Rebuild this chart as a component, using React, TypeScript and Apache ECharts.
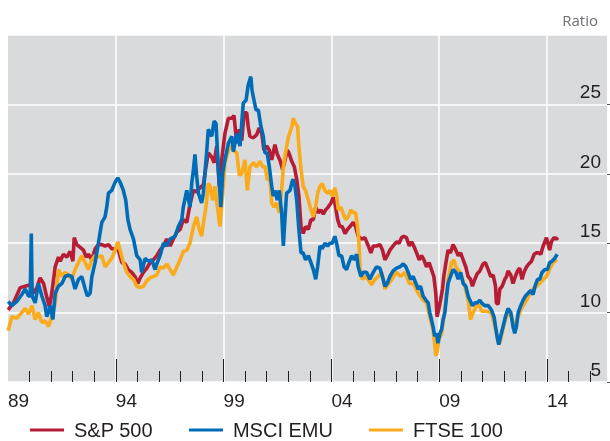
import React, { useEffect, useRef } from "react";
import * as echarts from "echarts";

// Forward P/E ratios, [decimal year, ratio]
const sp500: [number, number][] = [
  [1989.01,10.2],[1989.25,10.7],[1989.57,11.8],[1989.80,11.9],[1990.03,12.0],[1990.18,11.4],[1990.34,11.8],[1990.49,12.5],[1990.65,12.1],[1990.80,11.1],[1990.92,10.4],[1991.03,11.4],[1991.19,13.3],[1991.34,14.0],[1991.42,13.7],[1991.57,14.2],[1991.73,14.0],[1991.88,14.4],[1992.01,13.7],[1992.07,15.4],[1992.19,14.9],[1992.35,14.7],[1992.50,14.5],[1992.62,14.0],[1992.73,14.2],[1992.89,13.8],[1993.04,14.6],[1993.19,14.9],[1993.35,14.9],[1993.50,14.8],[1993.66,14.9],[1993.81,14.6],[1993.97,14.6],[1994.12,14.5],[1994.28,13.6],[1994.43,13.5],[1994.58,13.1],[1994.74,12.9],[1994.89,12.6],[1995.02,12.1],[1995.13,12.5],[1995.28,12.9],[1995.44,13.2],[1995.59,13.6],[1995.74,13.8],[1995.90,14.1],[1996.05,14.5],[1996.21,14.8],[1996.36,15.3],[1996.52,14.8],[1996.67,15.3],[1996.83,15.8],[1996.98,16.0],[1997.13,16.7],[1997.29,16.5],[1997.44,17.8],[1997.60,18.8],[1997.75,18.7],[1997.91,19.0],[1998.06,19.2],[1998.18,20.5],[1998.29,21.5],[1998.45,21.2],[1998.56,20.8],[1998.68,22.0],[1998.80,19.1],[1998.91,21.0],[1999.06,22.9],[1999.22,24.0],[1999.38,24.0],[1999.48,24.2],[1999.61,22.2],[1999.73,23.2],[1999.84,22.4],[1999.95,24.4],[2000.07,24.4],[2000.14,23.4],[2000.22,22.7],[2000.38,22.6],[2000.53,22.8],[2000.65,23.3],[2000.77,22.9],[2000.87,21.7],[2001.00,22.0],[2001.12,21.7],[2001.23,21.0],[2001.38,22.1],[2001.49,21.4],[2001.61,21.0],[2001.74,20.3],[2001.85,21.0],[2001.95,21.7],[2002.03,21.5],[2002.16,20.9],[2002.28,20.5],[2002.39,19.6],[2002.49,18.4],[2002.59,16.2],[2002.69,15.7],[2002.80,16.2],[2002.93,16.0],[2003.05,16.7],[2003.16,16.7],[2003.27,17.6],[2003.39,17.2],[2003.51,17.4],[2003.62,17.1],[2003.73,17.4],[2003.85,17.6],[2003.98,17.9],[2004.08,18.3],[2004.16,17.9],[2004.29,16.7],[2004.39,16.2],[2004.50,16.2],[2004.63,15.7],[2004.75,16.0],[2004.86,16.2],[2005.01,16.5],[2005.12,16.2],[2005.24,15.5],[2005.40,15.3],[2005.55,15.4],[2005.71,14.8],[2005.83,14.3],[2005.94,14.8],[2006.09,14.8],[2006.25,14.9],[2006.37,14.5],[2006.48,13.8],[2006.59,14.1],[2006.71,14.5],[2006.86,14.8],[2007.02,15.1],[2007.14,15.0],[2007.25,15.4],[2007.36,15.5],[2007.48,15.4],[2007.61,14.8],[2007.72,15.1],[2007.82,14.8],[2007.95,14.3],[2008.07,13.8],[2008.18,14.1],[2008.29,13.8],[2008.41,13.3],[2008.53,13.6],[2008.64,13.1],[2008.75,12.6],[2008.84,11.4],[2008.90,9.7],[2008.97,10.2],[2009.06,10.9],[2009.15,11.7],[2009.21,12.6],[2009.31,13.6],[2009.41,14.5],[2009.52,14.3],[2009.64,14.9],[2009.77,14.5],[2009.88,14.1],[2009.99,14.3],[2010.11,13.8],[2010.23,13.3],[2010.34,12.6],[2010.45,12.4],[2010.54,11.9],[2010.65,12.4],[2010.76,12.8],[2010.88,13.0],[2011.03,13.5],[2011.14,13.6],[2011.27,13.1],[2011.39,12.6],[2011.50,12.7],[2011.61,11.9],[2011.65,10.7],[2011.73,10.6],[2011.81,11.7],[2011.92,11.9],[2012.04,12.4],[2012.12,12.6],[2012.19,13.0],[2012.32,12.7],[2012.42,12.1],[2012.53,12.6],[2012.63,13.0],[2012.73,13.2],[2012.84,12.4],[2012.93,12.9],[2013.05,13.3],[2013.15,13.5],[2013.28,13.7],[2013.40,14.2],[2013.51,14.3],[2013.62,14.3],[2013.71,14.2],[2013.82,14.8],[2013.90,15.1],[2013.97,15.4],[2014.07,14.8],[2014.12,14.5],[2014.20,15.1],[2014.32,15.4],[2014.43,15.3],[2014.51,15.4]
];

const msciEmu: [number, number][] = [
  [1989.01,10.8],[1989.18,10.5],[1989.41,10.8],[1989.64,11.3],[1989.80,11.7],[1989.95,11.2],[1990.03,11.2],[1990.08,15.7],[1990.12,11.2],[1990.26,10.7],[1990.41,12.1],[1990.57,11.2],[1990.72,10.5],[1990.80,9.7],[1990.96,10.5],[1991.08,9.5],[1991.19,11.4],[1991.34,11.9],[1991.50,12.1],[1991.65,12.6],[1991.80,12.7],[1991.96,12.6],[1992.11,11.7],[1992.27,12.4],[1992.42,12.6],[1992.58,11.7],[1992.68,11.2],[1992.81,11.4],[1992.89,12.6],[1993.04,13.6],[1993.19,15.0],[1993.35,16.5],[1993.50,16.9],[1993.58,17.6],[1993.66,18.6],[1993.81,18.8],[1993.97,19.4],[1994.09,19.7],[1994.20,19.4],[1994.35,18.8],[1994.46,18.1],[1994.56,16.7],[1994.66,16.0],[1994.82,15.3],[1994.97,14.1],[1995.13,13.8],[1995.20,12.9],[1995.36,13.9],[1995.51,13.7],[1995.67,13.8],[1995.82,13.1],[1995.90,13.5],[1996.05,14.1],[1996.21,15.0],[1996.36,14.8],[1996.52,15.3],[1996.75,15.5],[1996.90,16.2],[1997.06,16.7],[1997.13,17.6],[1997.29,18.8],[1997.44,17.6],[1997.52,19.3],[1997.60,20.3],[1997.67,21.4],[1997.75,19.8],[1997.83,18.6],[1997.98,17.9],[1998.06,18.6],[1998.22,21.7],[1998.29,23.2],[1998.45,22.7],[1998.56,23.8],[1998.65,23.6],[1998.75,20.5],[1998.87,17.6],[1998.96,20.1],[1999.06,21.0],[1999.22,22.2],[1999.38,22.7],[1999.45,21.6],[1999.61,22.9],[1999.76,22.0],[1999.91,25.1],[2000.04,25.3],[2000.14,26.4],[2000.26,27.0],[2000.32,26.0],[2000.41,25.3],[2000.50,24.6],[2000.61,24.6],[2000.72,23.5],[2000.84,22.7],[2000.92,21.5],[2001.02,21.5],[2001.12,20.5],[2001.23,19.1],[2001.30,18.4],[2001.38,18.8],[2001.49,18.1],[2001.58,18.8],[2001.69,17.2],[2001.77,14.8],[2001.85,16.9],[2001.92,18.6],[2002.08,18.8],[2002.17,19.4],[2002.23,19.6],[2002.31,19.1],[2002.39,18.1],[2002.49,16.0],[2002.59,14.3],[2002.69,14.3],[2002.80,13.8],[2002.93,14.1],[2003.05,13.6],[2003.16,13.1],[2003.27,12.4],[2003.36,13.3],[2003.47,14.8],[2003.57,14.6],[2003.70,15.0],[2003.82,14.8],[2003.93,15.0],[2004.04,15.0],[2004.16,15.5],[2004.24,15.0],[2004.35,14.1],[2004.47,14.1],[2004.59,13.3],[2004.70,13.1],[2004.81,13.6],[2004.94,14.1],[2005.06,13.8],[2005.17,14.2],[2005.24,13.3],[2005.37,12.6],[2005.47,12.9],[2005.63,12.9],[2005.78,12.4],[2005.94,12.9],[2006.09,13.3],[2006.25,13.2],[2006.40,12.4],[2006.48,11.9],[2006.59,12.1],[2006.71,12.6],[2006.86,13.0],[2007.02,13.2],[2007.17,13.3],[2007.33,13.5],[2007.45,13.3],[2007.56,12.9],[2007.67,12.4],[2007.79,12.6],[2007.92,12.1],[2008.02,11.7],[2008.13,11.9],[2008.25,11.2],[2008.38,10.9],[2008.49,10.7],[2008.56,10.0],[2008.64,9.5],[2008.71,9.0],[2008.79,8.3],[2008.87,8.5],[2008.94,7.8],[2009.03,8.5],[2009.11,8.8],[2009.18,9.5],[2009.26,10.0],[2009.34,11.2],[2009.41,12.1],[2009.52,12.6],[2009.64,13.1],[2009.77,12.9],[2009.88,12.4],[2009.99,12.9],[2010.11,12.1],[2010.23,11.9],[2010.34,11.2],[2010.42,10.9],[2010.54,10.5],[2010.65,10.7],[2010.76,10.7],[2010.88,10.9],[2010.96,10.7],[2011.11,10.5],[2011.27,10.5],[2011.42,10.2],[2011.54,9.7],[2011.61,9.0],[2011.70,8.1],[2011.76,7.7],[2011.85,8.3],[2011.96,9.0],[2012.07,9.7],[2012.19,10.3],[2012.32,10.0],[2012.42,9.0],[2012.50,8.5],[2012.58,9.0],[2012.66,10.0],[2012.78,10.5],[2012.89,10.9],[2013.00,11.2],[2013.12,11.4],[2013.24,11.6],[2013.35,11.3],[2013.44,11.9],[2013.56,12.4],[2013.66,12.4],[2013.77,12.9],[2013.90,13.1],[2014.02,13.1],[2014.12,13.6],[2014.23,13.7],[2014.35,13.9],[2014.47,14.2]
];

const ftse100: [number, number][] = [
  [1989.01,8.7],[1989.18,9.7],[1989.41,9.6],[1989.64,10.0],[1989.80,10.3],[1989.95,9.9],[1990.11,10.5],[1990.26,9.5],[1990.41,10.0],[1990.57,9.3],[1990.72,9.4],[1990.88,9.0],[1991.03,9.7],[1991.19,10.7],[1991.34,13.1],[1991.50,12.6],[1991.65,12.9],[1991.80,12.7],[1991.96,12.4],[1992.11,13.1],[1992.27,13.6],[1992.42,14.1],[1992.58,13.6],[1992.73,13.1],[1992.89,13.8],[1993.04,14.1],[1993.19,14.0],[1993.35,14.1],[1993.50,13.3],[1993.66,13.6],[1993.81,13.9],[1993.97,14.5],[1994.09,15.1],[1994.20,14.5],[1994.35,13.6],[1994.51,12.9],[1994.66,12.6],[1994.82,12.4],[1994.97,11.9],[1995.13,11.8],[1995.28,11.9],[1995.44,12.3],[1995.59,12.5],[1995.74,12.6],[1995.90,12.7],[1996.05,13.3],[1996.21,13.2],[1996.36,13.5],[1996.52,13.1],[1996.67,12.7],[1996.83,13.3],[1996.98,13.8],[1997.13,14.4],[1997.29,14.5],[1997.44,15.0],[1997.60,16.2],[1997.75,16.9],[1997.87,16.0],[1997.98,15.5],[1998.09,16.7],[1998.18,17.6],[1998.29,19.3],[1998.37,19.1],[1998.49,18.1],[1998.60,19.1],[1998.71,17.6],[1998.83,16.2],[1998.96,18.6],[1999.06,20.8],[1999.17,21.4],[1999.30,22.0],[1999.45,21.7],[1999.61,21.5],[1999.73,19.9],[1999.84,20.0],[1999.99,21.0],[2000.10,18.8],[2000.22,20.5],[2000.38,20.8],[2000.53,20.5],[2000.69,20.9],[2000.81,20.5],[2000.93,20.5],[2001.02,19.6],[2001.15,19.6],[2001.23,17.9],[2001.34,17.6],[2001.46,17.9],[2001.58,17.2],[2001.69,18.8],[2001.77,20.5],[2001.89,21.7],[2002.00,22.6],[2002.16,23.4],[2002.23,24.0],[2002.34,23.6],[2002.43,23.4],[2002.49,22.0],[2002.59,20.3],[2002.69,19.1],[2002.80,18.8],[2002.93,18.1],[2003.05,17.4],[2003.16,16.9],[2003.27,17.6],[2003.36,18.6],[2003.47,19.1],[2003.57,19.3],[2003.70,18.8],[2003.82,18.6],[2003.93,18.8],[2004.04,18.4],[2004.16,19.0],[2004.24,18.4],[2004.32,17.4],[2004.44,17.6],[2004.55,17.1],[2004.66,16.7],[2004.78,16.9],[2004.90,17.4],[2005.01,17.2],[2005.12,17.2],[2005.21,16.2],[2005.27,15.2],[2005.33,13.1],[2005.43,12.4],[2005.55,12.6],[2005.71,12.4],[2005.86,12.0],[2006.02,12.4],[2006.17,12.6],[2006.33,12.9],[2006.48,11.7],[2006.71,12.2],[2007.02,12.9],[2007.21,12.6],[2007.41,12.9],[2007.61,12.1],[2007.79,12.1],[2008.02,11.4],[2008.25,10.9],[2008.41,10.7],[2008.56,9.7],[2008.71,8.8],[2008.79,7.7],[2008.84,6.9],[2008.90,7.1],[2008.99,8.1],[2009.11,8.5],[2009.26,10.2],[2009.41,12.4],[2009.57,13.6],[2009.68,13.8],[2009.77,13.3],[2009.96,12.9],[2010.19,11.9],[2010.34,10.9],[2010.45,9.5],[2010.57,10.0],[2010.73,10.5],[2010.88,10.5],[2010.96,10.1],[2011.19,10.1],[2011.42,10.0],[2011.61,8.8],[2011.73,8.1],[2011.81,7.8],[2011.92,8.6],[2012.07,9.5],[2012.19,10.0],[2012.35,9.7],[2012.50,9.0],[2012.66,9.7],[2012.81,10.3],[2013.05,10.9],[2013.28,11.6],[2013.51,11.9],[2013.66,12.1],[2013.82,12.4],[2013.97,12.6],[2014.12,13.1],[2014.27,13.6],[2014.47,13.8]
];

const seriesNames = ["S&P 500", "MSCI EMU", "FTSE 100"];
const xLabelYears = [1989, 1994, 1999, 2004, 2009, 2014];
const majorTickYears = [1994, 1999, 2004, 2009, 2014];
const minorTickYears = [1990, 1991, 1992, 1993, 1995, 1996, 1997, 1998, 2000, 2001, 2002, 2003, 2005, 2006, 2007, 2008, 2010, 2011, 2012, 2013, 2015, 2016];
const yTicks = [5, 10, 15, 20, 25, 30];

const FONT = "'Liberation Sans', Arial, Helvetica, sans-serif";
const TEXT = "#231f20";
const RED = "#b71c35";
const BLUE = "#006cb7";
const ORANGE = "#f9ab1c";

export default function App() {
  const ref = useRef<HTMLDivElement>(null);
  useEffect(() => {
    if (!ref.current) return;
    const chart = echarts.init(ref.current, undefined, { renderer: "svg" });
    const xMin = 1989;
    const xMax = 2016.78;
    chart.setOption({
      animation: false,
      grid: {
        left: 8, right: 3, top: 35, bottom: 59,
        show: true, backgroundColor: "#d9dadb", borderWidth: 0,
        outerBoundsMode: "none",
      },
      legend: {
        data: seriesNames,
        left: 25, top: 415,
        icon: "rect", itemWidth: 34, itemHeight: 3, itemGap: 36,
        textStyle: { fontFamily: FONT, fontSize: 20, color: TEXT, padding: [0, 0, 0, 5] },
      },
      graphic: [
        {
          type: "text", right: 12, top: 12,
          style: { text: "Ratio", fontFamily: "'Open Sans', sans-serif", fontSize: 15, fill: "#6d6e71" },
        },
      ],
      xAxis: [
        {
          type: "value", min: xMin, max: xMax, interval: 5,
          axisLine: { show: false },
          axisTick: { show: true, inside: true, length: 23, customValues: majorTickYears, lineStyle: { color: "#231f20", width: 1 } },
          minorTick: { show: false },
          axisLabel: {
            customValues: xLabelYears,
            formatter: (v: number) => String(Math.round(v) % 100).padStart(2, "0"),
            align: "left", margin: 9,
            fontFamily: FONT, fontSize: 19, color: TEXT,
          },
          splitLine: { show: true, lineStyle: { color: "#ffffff", width: 1.5 } },
        },
        {
          type: "value", min: xMin, max: xMax, interval: 5, position: "bottom",
          axisLine: { show: false },
          axisTick: { show: true, inside: true, length: 11, customValues: minorTickYears, lineStyle: { color: "#231f20", width: 1 } },
          axisLabel: { show: false },
          splitLine: { show: false },
        },
      ],
      yAxis: {
        type: "value", position: "right", min: 5, max: 30, interval: 5,
        axisLine: { show: false },
        axisTick: { show: true, inside: false, length: 3, customValues: yTicks, lineStyle: { color: "#555", width: 1 } },
        axisLabel: {
          inside: true, margin: 6, showMaxLabel: false,
          verticalAlign: "bottom", padding: [0, 0, 3, 0],
          fontFamily: FONT, fontSize: 19, color: TEXT,
        },
        splitLine: { show: true, lineStyle: { color: "#ffffff", width: 1.5 } },
      },
      series: [
        { name: seriesNames[0], type: "line", data: sp500, showSymbol: false, z: 2, lineStyle: { color: RED, width: 3.6 }, itemStyle: { color: RED } },
        { name: seriesNames[2], type: "line", data: ftse100, showSymbol: false, z: 3, lineStyle: { color: ORANGE, width: 3.6 }, itemStyle: { color: ORANGE } },
        { name: seriesNames[1], type: "line", data: msciEmu, showSymbol: false, z: 4, lineStyle: { color: BLUE, width: 3.6 }, itemStyle: { color: BLUE } },
      ],
    });
    return () => chart.dispose();
  }, []);
  return <div ref={ref} style={{ position: "fixed", left: 0, top: 0, width: 610, height: 441 }} />;
}
